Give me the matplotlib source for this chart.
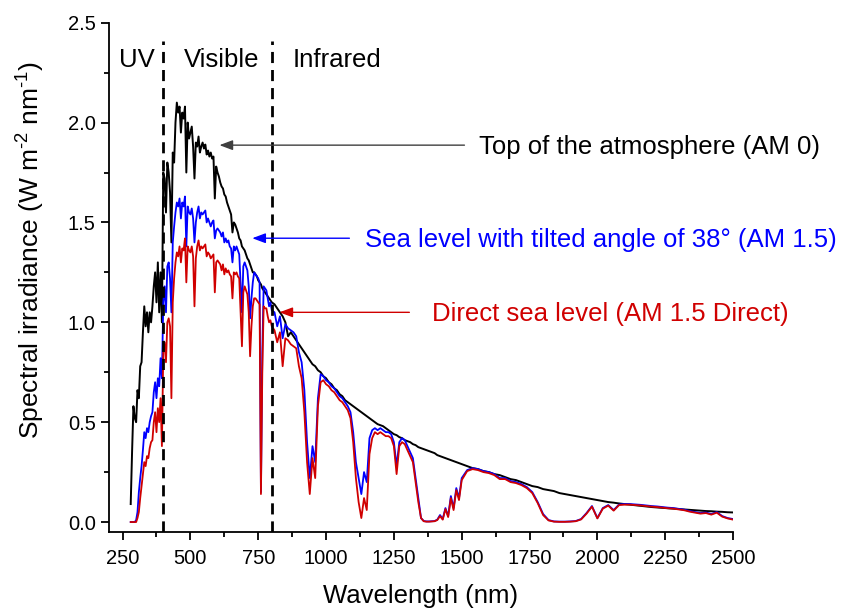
import numpy as np
import matplotlib
matplotlib.use("Agg")
import matplotlib.pyplot as plt
from matplotlib.ticker import MultipleLocator, FormatStrFormatter

plt.rcParams['font.family'] = ['Liberation Sans', 'DejaVu Sans']
plt.rcParams['mathtext.fontset'] = 'custom'
plt.rcParams['mathtext.rm'] = 'Liberation Sans'
plt.rcParams['mathtext.it'] = 'Liberation Sans:italic'

# wavelength grid (nm)
wavelength = np.concatenate([np.arange(280, 801, 5), np.arange(810, 1501, 10), np.arange(1520, 2501, 20)])

am0 = [
    0.09, 0.35, 0.58, 0.52, 0.50, 0.66, 0.62, 0.78, 0.80, 0.95,
    1.08, 0.98, 1.05, 0.95, 1.05, 1.00, 1.08, 1.18, 1.25, 1.10,
    1.30, 1.05, 1.25, 1.00, 1.75, 1.72, 1.55, 1.80, 1.75, 1.65,
    1.40, 1.85, 1.80, 2.00, 2.10, 2.05, 2.08, 1.95, 2.05, 2.02,
    2.08, 1.75, 2.00, 1.92, 1.95, 1.98, 1.88, 1.72, 1.90, 1.88,
    1.93, 1.85, 1.88, 1.90, 1.87, 1.89, 1.84, 1.86, 1.83, 1.85,
    1.82, 1.83, 1.62, 1.78, 1.75, 1.73, 1.70, 1.68, 1.67, 1.64,
    1.63, 1.60, 1.58, 1.56, 1.54, 1.45, 1.50, 1.49, 1.47, 1.45,
    1.42, 1.41, 1.38, 1.37, 1.36, 1.34, 1.32, 1.31, 1.29, 1.27,
    1.25, 1.25, 1.24, 1.23, 1.21, 1.20, 1.19, 1.17, 1.16, 1.15,
    1.14, 1.13, 1.12, 1.11, 1.10,
    1.09, 1.07, 1.05, 1.03, 1.00, 0.93, 0.95, 0.93, 0.91, 0.89,
    0.87, 0.85, 0.83, 0.81, 0.79, 0.78, 0.76, 0.75, 0.73, 0.72,
    0.70, 0.69, 0.67, 0.66, 0.64, 0.63, 0.61, 0.60, 0.59, 0.58,
    0.57, 0.56, 0.55, 0.54, 0.53, 0.52, 0.51, 0.50, 0.49, 0.485,
    0.48, 0.47, 0.46, 0.45, 0.44, 0.435, 0.425, 0.42, 0.41, 0.405,
    0.40, 0.39, 0.385, 0.375, 0.37, 0.365, 0.36, 0.355, 0.35, 0.345,
    0.335, 0.33, 0.325, 0.32, 0.315, 0.31, 0.305, 0.30, 0.295, 0.29,
    0.28, 0.27, 0.265, 0.255, 0.25, 0.24, 0.235, 0.225, 0.215, 0.21,
    0.20, 0.19, 0.18, 0.175, 0.165, 0.16, 0.155, 0.145, 0.14, 0.135,
    0.13, 0.125, 0.12, 0.115, 0.11, 0.105, 0.10, 0.097, 0.093, 0.09,
    0.087, 0.084, 0.081, 0.078, 0.075, 0.073, 0.071, 0.069, 0.067, 0.065,
    0.063, 0.061, 0.059, 0.057, 0.055, 0.054, 0.052, 0.051, 0.049, 0.048,
]

am15_global = [
    0.0, 0.0, 0.0, 0.0, 0.01, 0.05, 0.15, 0.22, 0.28, 0.36,
    0.45, 0.42, 0.47, 0.45, 0.50, 0.53, 0.55, 0.65, 0.70, 0.62,
    0.72, 0.68, 0.82, 0.72, 1.10, 1.18, 1.05, 1.28, 1.30, 1.22,
    1.05, 1.40, 1.48, 1.55, 1.60, 1.58, 1.62, 1.52, 1.60, 1.58,
    1.63, 1.38, 1.58, 1.55, 1.54, 1.57, 1.52, 1.40, 1.50, 1.55,
    1.58, 1.52, 1.55, 1.54, 1.55, 1.56, 1.50, 1.52, 1.50, 1.48,
    1.50, 1.51, 1.42, 1.46, 1.47, 1.46, 1.45, 1.43, 1.45, 1.40,
    1.42, 1.40, 1.41, 1.38, 1.37, 1.30, 1.38, 1.36, 1.38, 1.36,
    1.34, 1.20, 1.05, 1.28, 1.30, 1.28, 1.26, 1.18, 1.02, 1.12,
    1.20, 1.25, 1.24, 1.23, 1.22, 1.20, 0.15, 0.85, 1.18, 1.17,
    1.16, 1.12, 1.08, 1.10, 1.06,
    1.05, 0.98, 1.03, 0.92, 0.99, 0.97, 0.96, 0.95, 0.93, 0.85,
    0.80, 0.66, 0.40, 0.22, 0.38, 0.30, 0.62, 0.74, 0.73, 0.71,
    0.70, 0.68, 0.67, 0.65, 0.63, 0.62, 0.60, 0.58, 0.55, 0.45,
    0.30, 0.22, 0.14, 0.25, 0.20, 0.42, 0.46, 0.47, 0.46, 0.47,
    0.46, 0.45, 0.45, 0.44, 0.40, 0.28, 0.40, 0.42, 0.41, 0.38,
    0.35, 0.32, 0.22, 0.12, 0.02, 0.005, 0.003, 0.003, 0.004, 0.005,
    0.012, 0.035, 0.015, 0.07, 0.03, 0.13, 0.07, 0.17, 0.12, 0.22,
    0.26, 0.27, 0.265, 0.255, 0.25, 0.24, 0.22, 0.22, 0.205, 0.20,
    0.19, 0.175, 0.15, 0.10, 0.04, 0.01, 0.003, 0.002, 0.002, 0.003,
    0.005, 0.015, 0.045, 0.08, 0.02, 0.07, 0.085, 0.06, 0.088, 0.09,
    0.09, 0.088, 0.086, 0.083, 0.08, 0.078, 0.075, 0.072, 0.07, 0.066,
    0.062, 0.055, 0.05, 0.045, 0.048, 0.04, 0.05, 0.03, 0.02, 0.015,
]

am15_direct = [
    0.0, 0.0, 0.0, 0.0, 0.0, 0.02, 0.05, 0.12, 0.18, 0.24,
    0.30, 0.28, 0.33, 0.32, 0.37, 0.40, 0.41, 0.50, 0.55, 0.45,
    0.57, 0.50, 0.62, 0.38, 0.85, 0.90, 0.80, 1.00, 1.02, 0.98,
    0.62, 1.10, 1.22, 1.30, 1.35, 1.33, 1.38, 1.30, 1.37, 1.36,
    1.42, 1.20, 1.38, 1.36, 1.35, 1.38, 1.33, 1.08, 1.32, 1.38,
    1.41, 1.36, 1.38, 1.37, 1.38, 1.39, 1.33, 1.35, 1.34, 1.32,
    1.33, 1.34, 1.15, 1.30, 1.31, 1.30, 1.29, 1.26, 1.29, 1.24,
    1.27, 1.25, 1.26, 1.24, 1.23, 1.12, 1.25, 1.24, 1.25, 1.23,
    1.22, 1.05, 0.88, 1.15, 1.18, 1.16, 1.14, 1.05, 0.83, 0.98,
    1.08, 1.12, 1.12, 1.11, 1.10, 1.09, 0.14, 0.75, 1.08, 1.07,
    1.07, 1.03, 1.00, 1.01, 0.98,
    0.96, 0.90, 0.95, 0.78, 0.92, 0.91, 0.89, 0.88, 0.87, 0.78,
    0.72, 0.55, 0.30, 0.14, 0.32, 0.22, 0.58, 0.70, 0.71, 0.69,
    0.68, 0.66, 0.65, 0.63, 0.61, 0.60, 0.58, 0.56, 0.52, 0.40,
    0.22, 0.10, 0.02, 0.12, 0.06, 0.34, 0.42, 0.45, 0.44, 0.45,
    0.44, 0.43, 0.43, 0.42, 0.38, 0.24, 0.38, 0.40, 0.39, 0.36,
    0.33, 0.30, 0.20, 0.10, 0.02, 0.004, 0.002, 0.002, 0.003, 0.004,
    0.010, 0.03, 0.012, 0.065, 0.025, 0.12, 0.06, 0.16, 0.11, 0.21,
    0.255, 0.265, 0.26, 0.25, 0.245, 0.235, 0.215, 0.215, 0.20, 0.195,
    0.185, 0.17, 0.145, 0.095, 0.035, 0.008, 0.002, 0.001, 0.001, 0.002,
    0.004, 0.013, 0.042, 0.077, 0.018, 0.067, 0.082, 0.057, 0.085, 0.087,
    0.087, 0.085, 0.083, 0.080, 0.077, 0.075, 0.072, 0.069, 0.067, 0.063,
    0.059, 0.052, 0.047, 0.042, 0.045, 0.037, 0.047, 0.027, 0.018, 0.012,
]

region_bounds = [400, 800]
region_labels = ["UV", "Visible", "Infrared"]
region_label_x = [301, 615, 1042]

series_labels = ["Top of the atmosphere (AM 0)",
                 "Sea level with tilted angle of 38° (AM 1.5)",
                 "Direct sea level (AM 1.5 Direct)"]
colors = ["black", "#0000FF", "#D00000"]

fig = plt.figure(figsize=(8.45, 6.09), dpi=100)
ax = fig.add_axes([0.129, 0.1264, 0.7385, 0.8363])

ax.plot(wavelength, am0, color=colors[0], lw=1.4)
ax.plot(wavelength, am15_global, color=colors[1], lw=1.3)
ax.plot(wavelength, am15_direct, color=colors[2], lw=1.3)

for b in region_bounds:
    ax.plot([b, b], [-0.05, 2.41], color='black', lw=2, linestyle=(0, (4, 2.5)))

for lab, x in zip(region_labels, region_label_x):
    ax.text(x, 2.315, lab, ha='center', va='center', fontsize=18.5)

# annotations: (head x, head y, tail x, text x)
ann = [(607, 1.887, 1510, 1565), (728, 1.421, 1086, 1145), (828, 1.05, 1307, 1392)]
for (hx, hy, tx, txt_x), lab, c in zip(ann, series_labels, colors):
    lc = '#404040' if c == 'black' else c
    ax.annotate('', xy=(hx, hy), xytext=(tx, hy),
                arrowprops=dict(arrowstyle='-|>,head_length=0.8,head_width=0.3',
                                color=lc, lw=1.0, shrinkA=0, shrinkB=0))
    ax.text(txt_x, hy - 0.01, lab, color=c, ha='left', va='center', fontsize=18.5)

ax.set_xlim(200, 2500)
ax.set_ylim(-0.05, 2.5)
ax.set_xticks([250, 500, 750, 1000, 1250, 1500, 1750, 2000, 2250, 2500])
ax.xaxis.set_minor_locator(MultipleLocator(125))
ax.yaxis.set_major_locator(MultipleLocator(0.5))
ax.yaxis.set_minor_locator(MultipleLocator(0.25))
ax.yaxis.set_major_formatter(FormatStrFormatter('%.1f'))
ax.tick_params(which='major', direction='out', length=6, width=1.3, labelsize=14.5)
ax.tick_params(axis='x', which='major', pad=6.5)
ax.tick_params(which='minor', direction='out', length=3.5, width=1.3)
for s in ['top', 'right']:
    ax.spines[s].set_visible(False)
for s in ['left', 'bottom']:
    ax.spines[s].set_linewidth(1.3)

ax.set_xlabel('Wavelength (nm)', fontsize=18.5, labelpad=11)
ax.set_ylabel(r'Spectral irradiance (W m$^{\text{-2}}$ nm$^{\text{-1}}$)', fontsize=19)
ax.yaxis.set_label_coords(-0.099, 0.554)

fig.savefig('out.png', dpi=100)
